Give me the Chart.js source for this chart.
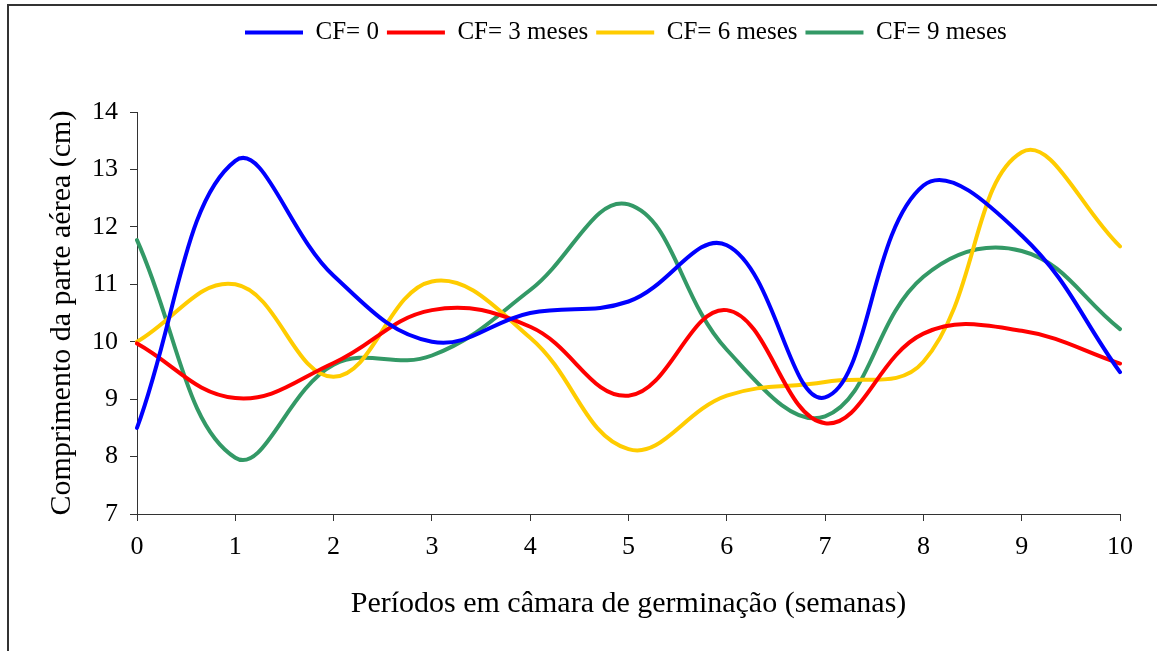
<!DOCTYPE html>
<html>
<head>
<meta charset="utf-8">
<script src="https://cdn.jsdelivr.net/npm/chart.js@4.4.1/dist/chart.umd.min.js"></script>
<style>
  html, body { margin: 0; padding: 0; background: #fff; overflow: hidden; }
  #wrap { position: relative; width: 1157px; height: 651px; }
  #frame { position: absolute; left: 7px; top: 4px; width: 1200px; height: 700px;
           border-left: 2px solid #333; border-top: 2px solid #333; }
  canvas { position: absolute; left: 0; top: 0; }
</style>
</head>
<body>
<div id="wrap">
  <div id="frame"></div>
  <canvas id="myChart" width="1157" height="651"></canvas>
</div>
<script>
"use strict";

//--------------------DATA

// weeks in the germination chamber
let weeks = ["0", "1", "2", "3", "4", "5", "6", "7", "8", "9", "10"];

// shoot length (cm) per storage period
let cf0 = [8.5, 13.15, 11.15, 10.0, 10.5, 10.7, 11.68, 9.03, 12.72, 11.85, 9.47];
let cf3 = [9.97, 9.02, 9.63, 10.55, 10.26, 9.06, 10.55, 8.58, 10.14, 10.19, 9.62];
let cf6 = [10.0, 11.0, 9.39, 11.05, 10.07, 8.13, 9.06, 9.3, 9.65, 13.3, 11.66];
let cf9 = [11.77, 7.98, 9.6, 9.76, 10.9, 12.39, 9.86, 8.7, 11.13, 11.58, 10.22];

let seriesNames = ["CF= 0", "CF= 3 meses", "CF= 6 meses", "CF= 9 meses"];
let seriesColors = ["#0000FF", "#FF0000", "#FFCC00", "#339966"];

//--------------------FUNCTIONS

function makeDataset(i, values) {
  return {
    label: seriesNames[i],
    data: values,
    borderColor: seriesColors[i],
    backgroundColor: seriesColors[i],
    borderWidth: 4,
    borderCapStyle: "round",
    pointRadius: 0,
    pointStyle: "line",
    tension: 0.4,
    fill: false,
  };
}

// legend takes the space above the plot and starts a bit right of the left edge
const legendSpace = {
  id: "legendSpace",
  beforeInit(chart) {
    const origFit = chart.legend.fit;
    chart.legend.fit = function () {
      origFit.bind(chart.legend)();
      this.height = 100;
    };
  },
  afterLayout(chart) {
    chart.legend.left = 237;
  },
};

//--------------------RENDER

const serif = "'Liberation Serif', 'Times New Roman', serif";
const ctx = document.getElementById("myChart").getContext("2d");
const myChart = new Chart(ctx, {
  type: "line",
  data: {
    labels: weeks,
    datasets: [
      makeDataset(0, cf0),
      makeDataset(1, cf3),
      makeDataset(2, cf6),
      makeDataset(3, cf9),
    ],
  },
  options: {
    responsive: false,
    animation: false,
    layout: { padding: { left: 0, right: 37, top: 12, bottom: 0 } },
    plugins: {
      tooltip: { enabled: false },
      legend: {
        position: "top",
        align: "start",
        labels: {
          usePointStyle: true,
          pointStyle: "line",
          pointStyleWidth: 58,
          padding: 8,
          color: "#000",
          font: { family: serif, size: 25 },
        },
      },
    },
    scales: {
      x: {
        type: "category",
        offset: false,
        grid: { display: true, drawOnChartArea: false, tickLength: 7, color: "#333" },
        border: { display: true, color: "#333", width: 1 },
        ticks: { color: "#000", padding: 11, maxRotation: 0, font: { family: serif, size: 26 } },
        title: {
          display: true,
          text: "Períodos em câmara de germinação (semanas)",
          color: "#000",
          font: { family: serif, size: 30 },
          padding: { top: 0, bottom: 29 },
        },
        afterFit(scale) {
          scale.height = 137;
        },
      },
      y: {
        min: 7,
        max: 14,
        ticks: { stepSize: 1, color: "#000", padding: 12, font: { family: serif, size: 26 } },
        grid: { display: true, drawOnChartArea: false, tickLength: 7, color: "#333" },
        border: { display: true, color: "#333", width: 1 },
        title: {
          display: true,
          text: "Comprimento da parte aérea (cm)",
          color: "#000",
          font: { family: serif, size: 30 },
          padding: { top: 44, bottom: 0 },
        },
        afterFit(scale) {
          scale.width = 137;
        },
      },
    },
  },
  plugins: [legendSpace],
});
</script>
</body>
</html>
